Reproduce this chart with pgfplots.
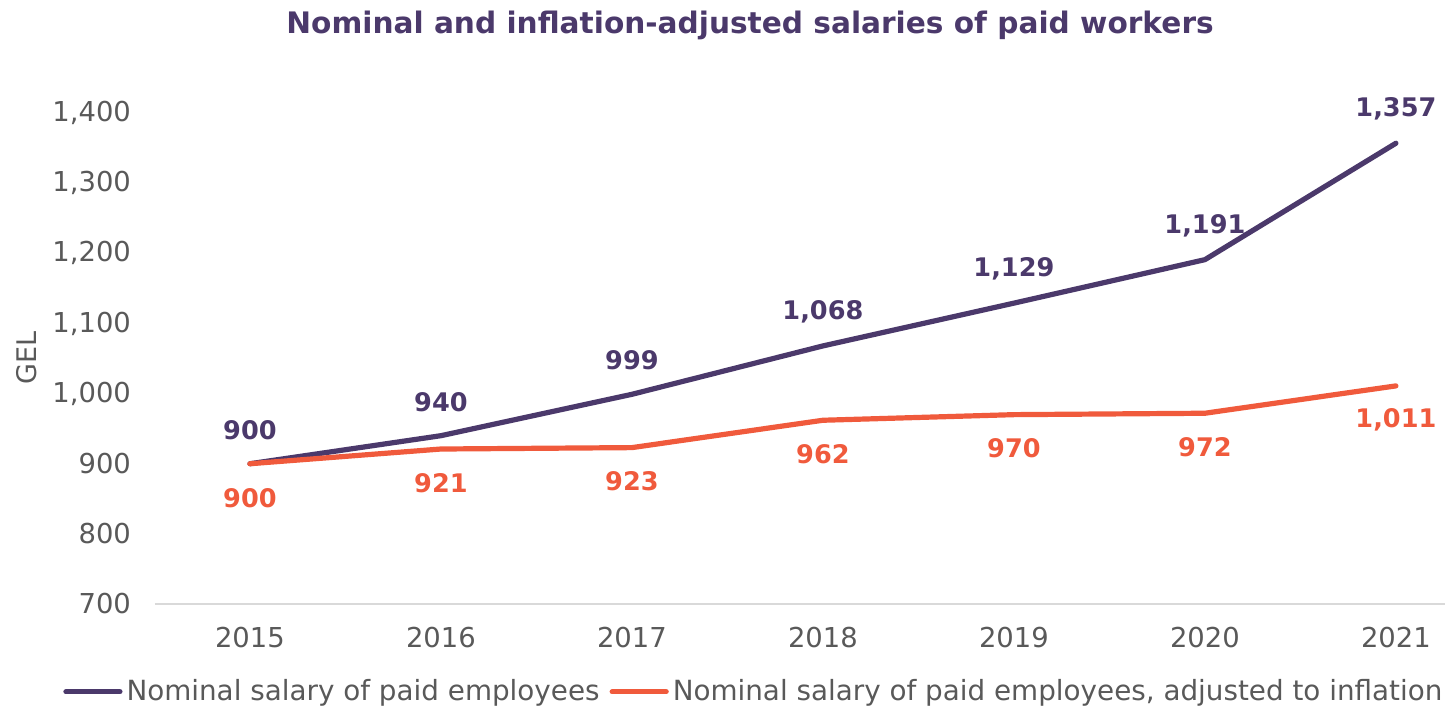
\documentclass[border=0pt]{standalone}
\usepackage{fontspec}
\setmainfont{DejaVu Sans}
\usepackage{pgfplots}
\pgfplotsset{compat=1.18}
\definecolor{cpurple}{HTML}{4B396B}
\definecolor{corange}{HTML}{F05A3C}
\definecolor{cgrey}{HTML}{595959}
\definecolor{caxis}{HTML}{D9D9D9}
\begin{document}
\begin{tikzpicture}
\useasboundingbox (-77.5pt,-52pt) rectangle (645pt,302pt);
\begin{axis}[
  scale only axis,
  width=645pt, height=263pt,
  xmin=-0.497, xmax=6.257,
  ymin=700, ymax=1450,
  xtick={0,...,6},
  xticklabels={2015,2016,2017,2018,2019,2020,2021},
  ytick={700,800,...,1400},
  axis y line*=left,
  y axis line style={draw=none},
  axis x line*=bottom,
  x axis line style={caxis, line width=0.8pt, -},
  major tick length=0pt,
  tick style={draw=none},
  /pgf/number format/assume math mode=true,
  /pgf/number format/1000 sep={,},
  ticklabel style={font=\fontsize{13.7pt}{16pt}\selectfont, text=cgrey},
  xticklabel style={yshift=-8pt},
  yticklabel style={xshift=-8.5pt},
  clip=false,
  nodes near coords,
  every node near coord/.append style={font=\bfseries\fontsize{12.8pt}{15pt}\selectfont, anchor=center},
  legend columns=2,
  legend style={draw=none, fill=none, at={(0.465,-0.167)}, anchor=center,
    font=\fontsize{13.9pt}{17pt}\selectfont, text=cgrey,
    /tikz/every even column/.append style={column sep=3pt}},
  legend image code/.code={\draw[#1, line width=2.6pt] (0pt,0pt) -- (27pt,0pt);},
]
\addplot[cpurple, line width=2.6pt, line cap=round, line join=round,
  every node near coord/.append style={text=cpurple, yshift=17pt}]
  coordinates {(0,900) (1,940) (2,999) (3,1068) (4,1129) (5,1191) (6,1357)};
\addlegendentry{Nominal salary of paid employees}
\addplot[corange, line width=2.6pt, line cap=round, line join=round,
  every node near coord/.append style={text=corange, yshift=-17pt}]
  coordinates {(0,900) (1,921) (2,923) (3,962) (4,970) (5,972) (6,1011)};
\addlegendentry{Nominal salary of paid employees, adjusted to inflation}
\end{axis}
\node[text=cgrey, rotate=90, font=\fontsize{13.5pt}{16pt}\selectfont] at (-64pt,123pt) {GEL};
\node[text=cpurple, font=\bfseries\fontsize{14.8pt}{18pt}\selectfont] at (297.5pt,289.5pt) {Nominal and inflation-adjusted salaries of paid workers};
\end{tikzpicture}
\end{document}
